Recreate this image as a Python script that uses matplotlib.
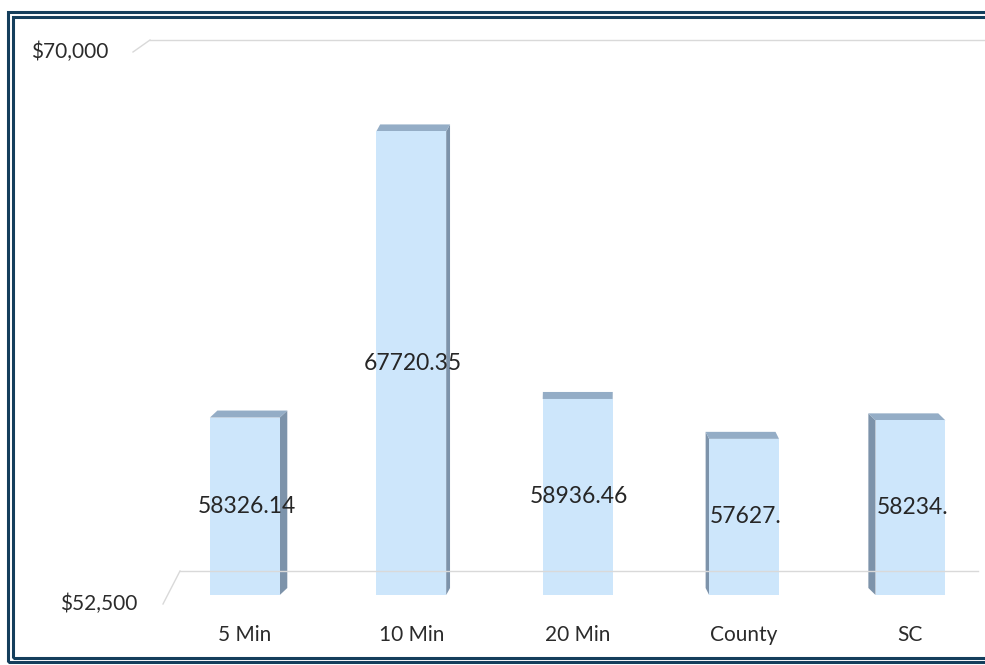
"""Excel-style 3D column chart: average value by drive-time band."""

import matplotlib.pyplot as plt
from matplotlib.patches import Polygon, Rectangle
from matplotlib.lines import Line2D

# ---------------------------------------------------------------------------
# Data
# ---------------------------------------------------------------------------
categories = ["5 Min", "10 Min", "20 Min", "County", "SC"]
values = [58326.14, 67720.35, 58936.46, 57627.0, 58234.0]
value_labels = ["58326.14", "67720.35", "58936.46", "57627.", "58234."]
y_min, y_max = 52500, 70000
y_tick_labels = ["$52,500", "$70,000"]

# ---------------------------------------------------------------------------
# Style
# ---------------------------------------------------------------------------
W, H = 985, 665
FRONT = "#cde6fb"
TOP = "#94adc6"
SIDE = "#7d93aa"
GRID = "#d9d9d9"
NAVY = "#143e5c"
TEXT = "#2b2b2b"

plt.rcParams["font.family"] = ["Lato", "DejaVu Sans"]


def px(x, y):
    """Pixel position (origin top-left) -> figure fraction."""
    return x / W, 1 - y / H


fig = plt.figure(figsize=(W / 100, H / 100), dpi=100)
fig.patch.set_facecolor("white")

# plot area = front plane of the 3D chart
left_px, right_px, top_px, bottom_px = 150, 982, 62, 595
x0, y0 = px(left_px, bottom_px)
ax = fig.add_axes([x0, y0, (right_px - left_px) / W, (bottom_px - top_px) / H])
ax.set_xlim(-0.57, 4.43)
ax.set_ylim(y_min, y_max)
ax.axis("off")

# data units per pixel
uy = (y_max - y_min) / (bottom_px - top_px)

# back-wall gridlines and their diagonal edges
for pts in [
    [(150, 40), (985, 40)],
    [(133, 52), (150, 40)],
    [(180, 571), (978, 571)],
    [(163, 604), (180, 571)],
]:
    xs, ys = zip(*[px(*p) for p in pts])
    fig.add_artist(Line2D(xs, ys, transform=fig.transFigure, color=GRID, lw=1))

# bars
bar_w = 0.42
vanish = 2.05
depth_y = 7 * uy
for i, (cat, v, lab) in enumerate(zip(categories, values, value_labels)):
    xl, xr = i - bar_w / 2, i + bar_w / 2
    dx = 0.022 * (vanish - i)
    # side face: right side for bars left of centre, left side otherwise
    edge = xr if dx > 0 else xl
    ax.add_patch(Polygon([(edge, y_min), (edge, v), (edge + dx, v + depth_y),
                          (edge + dx, y_min + depth_y)],
                         closed=True, facecolor=SIDE, edgecolor="none",
                         clip_on=False, zorder=2))
    # top face
    ax.add_patch(Polygon([(xl, v), (xr, v), (xr + dx, v + depth_y),
                          (xl + dx, v + depth_y)],
                         closed=True, facecolor=TOP, edgecolor="none",
                         clip_on=False, zorder=2))
    ax.bar(i, v - y_min, bottom=y_min, width=bar_w, color=FRONT,
           edgecolor="none", zorder=3, clip_on=False)
    ax.text(i + 0.01, (v + y_min) / 2, lab, ha="center", va="center",
            fontsize=16.5, color="#262626", zorder=4)
    ax.text(i, y_min - 46 * uy, cat, ha="center", va="baseline",
            fontsize=15, color=TEXT, clip_on=False)

# value axis labels
fig.text(*px(108, 52), y_tick_labels[1], ha="right", va="center",
         fontsize=15, color=TEXT)
fig.text(*px(137, 604), y_tick_labels[0], ha="right", va="center",
         fontsize=15, color=TEXT)

# double navy frame
for (l, t, r, b) in [(7.5, 11.5, 1000, 662), (13, 17, 994, 657.5)]:
    (fx0, fy0), (fx1, fy1) = px(l, b), px(r, t)
    fig.add_artist(Rectangle((fx0, fy0), fx1 - fx0, fy1 - fy0,
                             transform=fig.transFigure, fill=False,
                             edgecolor=NAVY, lw=2.2))

fig.savefig("out.png", dpi=100)
